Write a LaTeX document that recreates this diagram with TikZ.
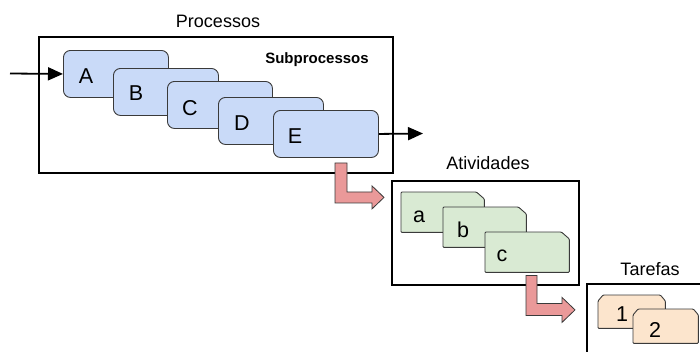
\documentclass[tikz,border=0pt]{standalone}
\usepackage{fontspec}
\setmainfont{Liberation Sans}
\usetikzlibrary{calc,arrows.meta}

\definecolor{boxblue}{HTML}{C9DAF8}
\definecolor{boxgreen}{HTML}{D9EAD3}
\definecolor{boxorange}{HTML}{FCE5CD}
\definecolor{arrowred}{HTML}{EA9999}
\definecolor{cardline}{HTML}{3A3A3A}

\tikzset{
  frame/.style={draw=black, line width=2pt},
  area/.style={inner sep=0pt, anchor=base, font=\fontsize{18}{21}\selectfont},
  procbox/.style={draw=cardline, fill=boxblue, line width=0.9pt, rounded corners=7pt,
                  inner sep=0pt, anchor=north west, minimum width=105pt, minimum height=47pt},
  slot/.style={inner sep=0pt, anchor=north west},
  greencard/.style={draw=cardline, fill=boxgreen, line width=0.9pt, rounded corners=1pt},
  orangecard/.style={draw=cardline, fill=boxorange, line width=0.9pt, rounded corners=1pt},
  letter/.style={inner sep=0pt, anchor=base, font=\fontsize{21.5}{24}\selectfont},
  flow/.style={line width=1.8pt, -{Triangle[length=15pt,width=13pt]}},
  bent/.style={draw=cardline, fill=arrowred, line width=0.8pt, line join=miter},
}

\begin{document}
\begin{tikzpicture}[x=1pt, y=-1pt]
  \useasboundingbox (0,0) rectangle (700,351);

  % ---------- Processos ----------
  \node[frame, inner sep=0pt, anchor=north west, minimum width=354pt, minimum height=136pt] (proc) at (38,36) {};
  \node[area] (proctitle) at (218,27) {Processos};
  \node[inner sep=0pt, anchor=base, font=\fontsize{15}{18}\selectfont\bfseries] (sub) at (317,63) {Subprocessos};

  \node[procbox] (A) at (63,50) {};
  \node[letter] (Alab) at ($(A.north west)+(23,33)$) {A};
  \node[procbox] (B) at (113,68) {};
  \node[letter] (Blab) at ($(B.north west)+(23,32)$) {B};
  \node[procbox] (C) at (167,81) {};
  \node[letter] (Clab) at ($(C.north west)+(23,34)$) {C};
  \node[procbox] (D) at (218,97) {};
  \node[letter] (Dlab) at ($(D.north west)+(24,33)$) {D};
  \node[procbox] (E) at (273,110) {};
  \node[letter] (Elab) at ($(E.north west)+(22,33)$) {E};

  \coordinate (src) at (10,73.5);
  \coordinate (dst) at (423,133.5);
  \draw[flow] (src) -- (A.west);
  \draw[flow] (E.east) -- (dst);

  % ---------- Atividades ----------
  \node[frame, inner sep=0pt, anchor=north west, minimum width=187pt, minimum height=104pt] (ativ) at (391,180) {};
  \node[area] (ativtitle) at (488,169.5) {Atividades};

  \node[slot, minimum width=83pt, minimum height=40pt] (a) at (401,192) {};
  \node[slot, minimum width=83pt, minimum height=40pt] (b) at (443,207) {};
  \node[slot, minimum width=84pt, minimum height=40pt] (c) at (485,232) {};

  \path[greencard] (a.north west) -- ($(a.north east)+(-8,0)$) -- ($(a.north east)+(0,7)$)
        -- (a.south east) -- (a.south west) -- cycle;
  \node[letter] (alab) at ($(a.north west)+(18,30)$) {a};
  \path[greencard] (b.north west) -- ($(b.north east)+(-8,0)$) -- ($(b.north east)+(0,7)$)
        -- (b.south east) -- (b.south west) -- cycle;
  \node[letter] (blab) at ($(b.north west)+(20,30)$) {b};
  \path[greencard] (c.north west) -- ($(c.north east)+(-8,0)$) -- ($(c.north east)+(0,7)$)
        -- (c.south east) -- (c.south west) -- cycle;
  \node[letter] (clab) at ($(c.north west)+(17,29)$) {c};

  % ---------- Tarefas ----------
  \coordinate (tarTR) at (702,284);
  \coordinate (tarBL) at (587,353);
  \draw[frame] (tarTR) -- (587,284) -- (tarBL);
  \node[area] (tartitle) at (650,275) {Tarefas};

  \node[slot, minimum width=67pt, minimum height=33pt] (t1) at (598,295) {};
  \node[slot, minimum width=65pt, minimum height=34pt] (t2) at (633,309) {};

  \path[orangecard] ($(t1.north west)+(0,6)$) -- ($(t1.north west)+(5,0)$) -- ($(t1.north east)+(-5,0)$)
        -- ($(t1.north east)+(0,6)$) -- (t1.south east) -- (t1.south west) -- cycle;
  \node[letter] (t1lab) at ($(t1.north west)+(24,26)$) {1};
  \path[orangecard] ($(t2.north west)+(0,6)$) -- ($(t2.north west)+(5,0)$) -- ($(t2.north east)+(-5,0)$)
        -- ($(t2.north east)+(0,6)$) -- (t2.south east) -- (t2.south west) -- cycle;
  \node[letter] (t2lab) at ($(t2.north west)+(22,28)$) {2};

  % ---------- bent arrows between levels ----------
  \coordinate (r1) at ($(E.south west)+(62,5)$);
  \draw[bent] (r1) -- ++(0,40) -- ++(37,0) -- ++(0,6) -- ++(12,-11.5) -- ++(-12,-11.5)
        -- ++(0,6) -- ++(-25,0) -- ++(0,-29) -- cycle;
  \coordinate (r2) at ($(c.south west)+(41,3)$);
  \draw[bent] (r2) -- ++(0,40) -- ++(36,0) -- ++(0,7) -- ++(13,-12.5) -- ++(-13,-12.5)
        -- ++(0,6) -- ++(-25,0) -- ++(0,-28) -- cycle;
\end{tikzpicture}
\end{document}
